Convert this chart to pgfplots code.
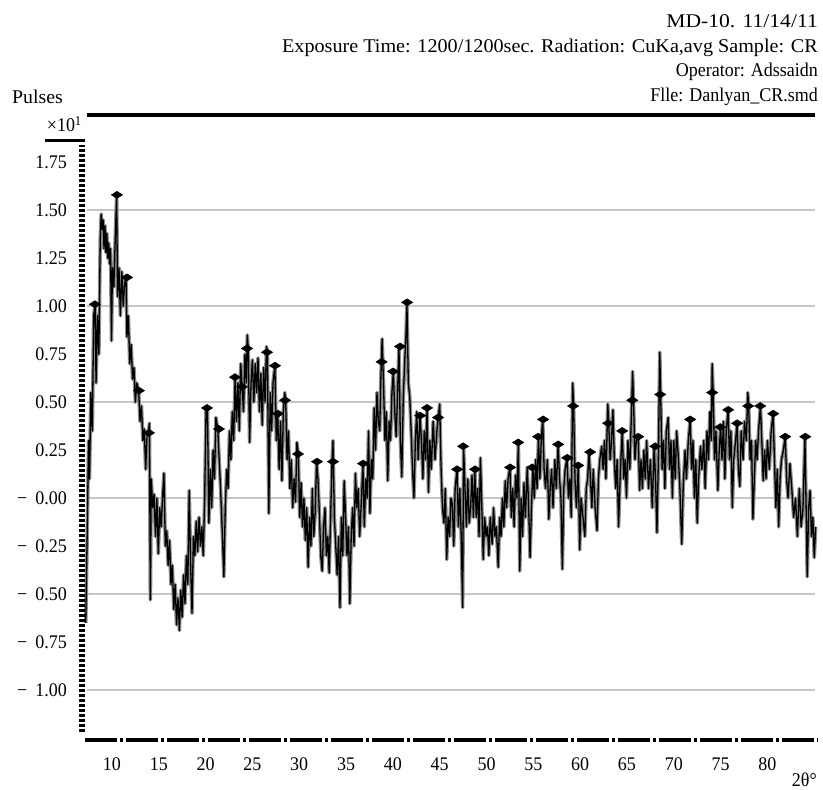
\documentclass[border=0pt]{standalone}
\usepackage{fontspec}
\setmainfont{Liberation Serif}
\usepackage{pgfplots}
\usepackage{pgfplotstable}
\pgfplotsset{compat=1.18}
\pgfplotstableread{
x y
7.2 -0.65
7.35 -0.2
7.5 0.3
7.6 0.1
7.75 0.55
7.9 0.35
8.05 0.95
8.2 1.01
8.3 0.6
8.45 0.95
8.6 0.75
8.75 1.35
8.85 1.48
8.95 1.40
9.05 1.45
9.15 1.30
9.25 1.42
9.35 1.28
9.45 1.38
9.55 1.25
9.65 1.33
9.75 1.22
9.85 1.30
9.95 0.82
10.05 1.2
10.2 1.1
10.35 1.35
10.5 1.58
10.6 1.05
10.75 1.2
10.9 0.95
11.05 1.18
11.2 1.0
11.35 1.12
11.5 1.15
11.6 0.84
11.75 0.95
11.9 0.70
12.05 0.8
12.2 0.62
12.35 0.68
12.5 0.50
12.65 0.6
12.85 0.56
13.0 0.40
13.15 0.48
13.3 0.30
13.45 0.36
13.6 0.15
13.75 0.33
13.9 0.34
14.0 0.39
14.1 -0.53
14.2 0.1
14.35 -0.05
14.5 0.02
14.65 -0.2
14.8 0.0
14.95 -0.29
15.1 -0.05
15.25 -0.15
15.4 0.0
15.55 0.13
15.7 -0.25
15.85 -0.17
16.0 -0.35
16.15 -0.22
16.3 -0.45
16.45 -0.35
16.6 -0.58
16.75 -0.45
16.9 -0.66
17.05 -0.52
17.2 -0.69
17.35 -0.48
17.5 -0.62
17.65 -0.4
17.8 -0.55
17.95 -0.3
18.1 -0.45
18.25 0.04
18.4 -0.35
18.55 -0.6
18.7 -0.2
18.85 -0.3
19.0 -0.12
19.15 -0.28
19.3 -0.1
19.45 -0.25
19.6 -0.15
19.75 -0.3
19.9 0.0
20.05 0.47
20.2 0.45
20.35 -0.13
20.5 0.15
20.65 -0.05
20.8 0.25
20.95 0.1
21.1 0.42
21.3 0.36
21.45 0.2
21.6 0.05
21.8 -0.2
21.95 -0.41
22.1 -0.05
22.25 0.15
22.4 0.05
22.55 0.35
22.7 0.2
22.85 0.45
23.0 0.3
23.15 0.63
23.3 0.4
23.45 0.6
23.6 0.35
23.75 0.7
23.9 0.58
24.05 0.45
24.2 0.75
24.35 0.6
24.45 0.85
24.55 0.78
24.7 0.29
24.85 0.6
25.0 0.72
25.15 0.5
25.3 0.7
25.45 0.55
25.6 0.73
25.75 0.45
25.9 0.65
26.05 0.38
26.2 0.68
26.35 0.5
26.5 0.79
26.6 0.76
26.75 -0.08
26.9 0.55
27.05 0.35
27.2 0.6
27.4 0.69
27.55 0.3
27.7 0.44
27.85 0.15
28.0 0.4
28.15 0.09
28.3 0.45
28.45 0.55
28.55 0.51
28.7 0.2
28.85 0.35
29.0 0.05
29.15 0.2
29.3 -0.05
29.45 0.1
29.6 -0.02
29.75 0.29
29.9 0.23
30.05 -0.1
30.2 0.08
30.35 -0.15
30.5 0.0
30.65 -0.22
30.8 -0.05
30.95 -0.36
31.1 -0.1
31.25 -0.25
31.4 0.05
31.55 -0.2
31.7 -0.08
31.85 0.19
32.0 0.1
32.15 -0.08
32.3 -0.3
32.45 -0.38
32.6 -0.15
32.75 -0.05
32.9 -0.3
33.05 -0.2
33.2 -0.39
33.35 -0.1
33.5 0.19
33.6 0.30
33.75 -0.1
33.9 -0.25
34.05 -0.4
34.2 -0.2
34.35 -0.57
34.5 -0.1
34.65 -0.3
34.8 0.09
34.95 -0.1
35.1 -0.3
35.25 -0.15
35.4 -0.55
35.55 -0.2
35.7 -0.05
35.85 -0.25
36.0 0.13
36.15 -0.05
36.3 0.05
36.45 -0.2
36.6 -0.05
36.8 0.18
36.95 -0.15
37.1 0.1
37.25 0.0
37.4 0.35
37.55 -0.08
37.7 0.2
37.85 0.1
38.0 0.47
38.15 0.25
38.3 0.55
38.45 0.4
38.6 0.35
38.7 0.6
38.85 0.83
39.0 0.6
39.15 0.3
39.3 0.45
39.45 0.09
39.6 0.4
39.75 0.3
39.9 0.55
40.05 0.66
40.2 0.45
40.35 0.32
40.5 0.55
40.65 0.79
40.8 0.3
40.95 0.11
41.1 0.5
41.25 0.7
41.4 0.85
41.5 1.02
41.65 0.6
41.8 0.53
41.95 0.35
42.1 0.15
42.25 0.0
42.4 0.3
42.55 0.45
42.7 0.2
42.9 0.43
43.05 0.3
43.2 0.1
43.35 0.35
43.5 0.2
43.65 0.47
43.8 0.03
43.95 0.3
44.1 0.15
44.3 0.4
44.5 0.2
44.7 0.35
44.85 0.42
45.0 0.49
45.15 0.15
45.3 -0.05
45.45 -0.13
45.6 0.05
45.75 -0.32
45.9 -0.1
46.05 -0.2
46.2 0.0
46.35 -0.03
46.5 -0.25
46.65 0.05
46.85 0.15
47.0 -0.15
47.15 0.05
47.3 -0.2
47.45 -0.57
47.55 0.27
47.7 0.05
47.85 -0.15
48.0 0.1
48.15 -0.13
48.3 -0.05
48.45 0.12
48.6 -0.1
48.75 0.15
48.9 -0.1
49.05 0.05
49.2 -0.2
49.35 0.21
49.5 -0.05
49.65 -0.32
49.8 -0.1
49.95 -0.2
50.1 -0.15
50.25 -0.3
50.4 -0.1
50.6 -0.24
50.75 -0.05
50.9 -0.2
51.05 -0.15
51.25 -0.36
51.4 -0.1
51.55 -0.2
51.7 0.0
51.85 -0.15
52.0 0.09
52.15 -0.05
52.3 0.1
52.5 0.16
52.65 -0.1
52.8 0.05
52.95 -0.15
53.1 0.12
53.25 0.0
53.4 0.29
53.55 -0.38
53.7 0.0
53.85 -0.2
54.0 0.08
54.15 -0.1
54.35 0.16
54.5 -0.05
54.65 -0.31
54.8 -0.05
54.95 0.16
55.1 0.0
55.25 0.2
55.4 0.05
55.55 0.32
55.7 0.1
55.85 0.3
56.0 0.41
56.15 0.15
56.3 0.05
56.5 0.2
56.65 -0.11
56.8 0.05
56.95 0.15
57.1 -0.05
57.3 0.2
57.45 0.05
57.65 0.28
57.8 0.1
57.95 0.0
58.1 -0.37
58.25 0.05
58.4 0.15
58.6 0.21
58.75 0.0
58.9 0.1
59.05 -0.1
59.2 0.60
59.3 0.48
59.45 0.1
59.6 -0.05
59.8 0.17
59.95 -0.27
60.1 0.0
60.3 -0.1
60.5 -0.2
60.65 0.05
60.8 0.1
60.95 0.24
61.1 0.1
61.25 -0.05
61.4 0.15
61.6 -0.05
61.8 -0.17
61.95 0.1
62.1 0.2
62.3 0.27
62.45 0.15
62.6 0.3
62.75 0.1
62.95 0.49
63.05 0.39
63.2 0.2
63.35 0.3
63.5 0.46
63.65 0.2
63.8 0.05
63.95 0.2
64.1 -0.15
64.3 0.15
64.5 0.35
64.65 0.1
64.8 0.2
64.95 0.0
65.1 0.3
65.3 0.15
65.45 0.4
65.6 0.66
65.7 0.51
65.85 0.2
66.0 0.3
66.2 0.32
66.35 0.04
66.5 0.2
66.65 0.05
66.8 0.25
66.95 0.1
67.1 0.3
67.3 0.05
67.5 0.2
67.7 -0.05
67.9 0.27
68.05 0.1
68.2 -0.18
68.35 0.2
68.5 0.76
68.6 0.54
68.75 0.15
68.9 0.3
69.05 0.05
69.2 0.35
69.4 0.42
69.55 0.15
69.7 0.3
69.85 0.0
70.0 0.3
70.15 0.1
70.3 0.35
70.5 0.2
70.65 0.05
70.85 -0.24
71.0 0.05
71.2 0.25
71.35 0.1
71.55 0.3
71.75 0.41
71.9 0.15
72.05 0.3
72.2 0.0
72.35 0.2
72.5 -0.13
72.65 0.1
72.85 0.27
73.0 0.15
73.2 0.3
73.35 0.05
73.55 0.35
73.7 0.2
73.85 0.45
74.0 0.3
74.1 0.70
74.2 0.55
74.35 0.2
74.5 0.35
74.7 0.04
74.85 0.25
75.0 0.37
75.15 0.2
75.3 0.4
75.45 0.1
75.6 0.35
75.8 0.46
75.95 0.2
76.1 0.35
76.25 -0.05
76.4 0.2
76.6 0.3
76.75 0.39
76.9 0.15
77.05 0.06
77.2 0.35
77.4 0.2
77.55 0.4
77.75 0.3
77.9 0.55
78.0 0.48
78.15 0.2
78.3 0.3
78.45 -0.11
78.6 0.1
78.75 0.3
78.9 0.2
79.05 0.35
79.25 0.48
79.4 0.3
79.55 0.09
79.7 0.25
79.85 0.1
80.0 0.3
80.2 0.15
80.4 0.35
80.6 0.44
80.75 0.2
80.9 -0.05
81.05 0.15
81.2 -0.15
81.35 0.1
81.5 0.2
81.7 0.25
81.9 0.32
82.05 0.1
82.2 0.0
82.4 0.18
82.6 0.05
82.8 -0.1
83.0 0.0
83.2 -0.2
83.4 0.05
83.6 -0.15
83.8 -0.05
84.0 0.32
84.15 -0.1
84.25 -0.41
84.4 -0.05
84.55 0.04
84.7 -0.2
84.85 -0.1
85.0 -0.31
85.15 -0.15
}\xrddata
\pgfplotstableread{
x y
8.18 1.01
10.53 1.58
11.6 1.15
12.88 0.56
13.95 0.34
20.15 0.47
21.43 0.36
23.14 0.63
23.89 0.58
24.42 0.78
26.56 0.76
27.41 0.69
27.73 0.44
28.48 0.51
29.87 0.23
31.9 0.19
33.61 0.19
36.82 0.18
38.8 0.71
40.02 0.66
40.77 0.79
41.52 1.02
42.91 0.43
43.65 0.47
44.83 0.42
46.86 0.15
47.5 0.27
48.78 0.15
52.52 0.16
53.38 0.29
54.87 0.16
55.51 0.32
56.05 0.41
57.65 0.28
58.61 0.21
59.25 0.48
59.79 0.17
61.07 0.24
62.99 0.39
64.49 0.35
65.56 0.51
66.2 0.32
68.01 0.27
68.55 0.54
71.75 0.41
74.1 0.55
74.96 0.37
75.81 0.46
76.77 0.39
77.95 0.48
79.23 0.48
80.62 0.44
81.9 0.32
84.04 0.32
}\xrdpeaks
\begin{document}
\fontsize{18}{21.6}\selectfont
\begin{tikzpicture}
\useasboundingbox (-82pt,-52pt) rectangle (741pt,738pt);
\begin{axis}[
  at={(0pt,0pt)}, anchor=south west, scale only axis,
  width=736pt, height=593pt,
  xmin=6.8, xmax=85.4, ymin=-1.25, ymax=1.84,
  axis line style={draw=none},
  clip=false,
  major tick length=0pt,
  xtick={10,15,...,80},
  xticklabels={10,15,20,25,30,35,40,45,50,55,60,65,70,75,80},
  ytick={-1,-0.75,...,1.75},
  yticklabels={−\hspace{8pt}1.00,−\hspace{8pt}0.75,−\hspace{8pt}0.50,−\hspace{8pt}0.25,−\hspace{8pt}0.00,0.25,0.50,0.75,1.00,1.25,1.50,1.75},
  tick label style={font=\fontsize{18}{21.6}\selectfont, yscale=1.07},
  yticklabel style={xshift=-9pt},
  xticklabel style={yshift=-12pt},
]
\draw[black!22, line width=2.5pt] (axis cs:7.33,-1) -- (axis cs:85.1,-1);
\draw[black!22, line width=2.5pt] (axis cs:7.33,-0.5) -- (axis cs:85.1,-0.5);
\draw[black!22, line width=2.5pt] (axis cs:7.33,0) -- (axis cs:85.1,0);
\draw[black!22, line width=2.5pt] (axis cs:7.33,0.5) -- (axis cs:85.1,0.5);
\draw[black!22, line width=2.5pt] (axis cs:7.33,1) -- (axis cs:85.1,1);
\draw[black!22, line width=2.5pt] (axis cs:7.33,1.5) -- (axis cs:85.1,1.5);
\addplot[black!45, line width=3.6pt, line join=round] table {\xrddata};
\addplot[black, line width=1.3pt, line join=round] table {\xrddata};
\addplot[only marks, mark=diamond*, mark size=4pt, mark options={xscale=1.9, yscale=0.9, fill=black, draw=black}] table {\xrdpeaks};
\end{axis}
\draw[black, line width=6pt, dash pattern=on 2.5pt off 2.5pt] (0pt,6pt) -- (0pt,593pt);
\draw[black, line width=4pt, dash pattern=on 32pt off 3pt on 3pt off 3pt] (3pt,-2pt) -- (736pt,-2pt);
\draw[black, line width=4.5pt] (5pt,623pt) -- (733pt,623pt);
\draw[black, line width=3pt] (-37pt,597pt) -- (3pt,597pt);
\node[anchor=base east, inner sep=0pt] at (736pt,710pt) {\scalebox{1.2}[1.08]{MD-10. 11/14/11}};
\node[anchor=base east, inner sep=0pt] at (736pt,685pt) {\scalebox{1.12}[1.08]{Exposure Time: 1200/1200sec. Radiation: CuKa,avg Sample: CR}};
\node[anchor=base east, inner sep=0pt] at (736pt,661pt) {\scalebox{1}[1.08]{Operator: Adssaidn}};
\node[anchor=base east, inner sep=0pt] at (736pt,636pt) {\scalebox{1}[1.08]{Flle: Danlyan\_CR.smd}};
\node[anchor=base west, inner sep=0pt] at (-70pt,634pt) {\scalebox{1.1}[1.08]{Pulses}};
\node[anchor=base east, inner sep=0pt] at (0pt,606pt) {\scalebox{1}[1.08]{×10\textsuperscript{1}}};
\node[anchor=base east, inner sep=0pt] at (735pt,-49pt) {\scalebox{1}[1.08]{2θ°}};
\end{tikzpicture}
\end{document}
